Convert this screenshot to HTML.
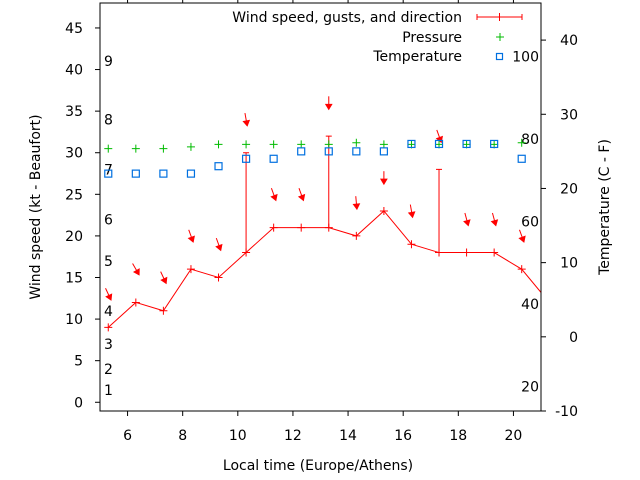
<!DOCTYPE html>
<html><head><meta charset="utf-8"><style>
html,body{margin:0;padding:0;background:#fff;}
svg{display:block;font-family:"DejaVu Sans","Liberation Sans",sans-serif;}
</style></head><body>
<svg id="chart" width="640" height="480" viewBox="0 0 640 480" xmlns="http://www.w3.org/2000/svg">
<rect width="640" height="480" fill="#fff"/>
<g id="grid"></g>
<g id="series"></g>
<rect x="100" y="3" width="441" height="408" fill="none" stroke="#000" stroke-width="1"/>
<text x="318" y="470" font-size="14" text-anchor="middle">Local time (Europe/Athens)</text>
<text transform="translate(40,207) rotate(-90)" font-size="14" text-anchor="middle">Wind speed (kt - Beaufort)</text>
<text transform="translate(609,207) rotate(-90)" font-size="14" text-anchor="middle">Temperature (C - F)</text>
<g>
<text x="462" y="22" font-size="14" text-anchor="end">Wind speed, gusts, and direction</text>
<g stroke="#f00" stroke-width="1">
<line x1="477" y1="17" x2="522" y2="17"/><line x1="477" y1="14" x2="477" y2="20"/><line x1="522" y1="14" x2="522" y2="20"/><line x1="499.5" y1="13" x2="499.5" y2="21"/></g>
<text x="462" y="42" font-size="14" text-anchor="end">Pressure</text>
<g stroke="#0b0" stroke-width="1"><line x1="496" y1="37" x2="504" y2="37"/><line x1="500" y1="33" x2="500" y2="41"/></g>
<text x="462" y="61" font-size="14" text-anchor="end">Temperature</text>
<rect x="496.5" y="53.5" width="6" height="6" fill="none" stroke="#0070e0" stroke-width="1.2"/>
</g>
</svg>
<script>
const times = [5.3,6.3,7.3,8.3,9.3,10.3,11.3,12.3,13.3,14.3,15.3,16.3,17.3,18.3,19.3,20.3,21.3];
const windSpeed = [9,12,11,16,15,18,21,21,21,20,23,19,18,18,18,16,12];
const gusts = [null,null,null,null,null,30,null,null,32,null,null,null,28,null,null,null,null];
const windDir = [335,330,335,340,340,350,340,340,360,355,360,350,340,345,345,340,340];
const pressure = [30.5,30.5,30.5,30.7,31,31,31,31,31,31.2,31,31,31,31,31,31.2];
const temperature = [22,22,22,22,23,24,24,25,25,25,25,26,26,26,26,24];
const xTicks = [6,8,10,12,14,16,18,20];
const yTicks = [0,5,10,15,20,25,30,35,40,45];
const y2Ticks = [-10,0,10,20,30,40];
const beaufortLabels = [1,2,3,4,5,6,7,8,9];
const beaufortKt = [1.5,4,7,11,17,22,28,34,41];
const fahrenheitLabels = [20,40,60,80,100];

const X0=100,X1=541,Y0=411,Y1=3;
const xMin=5,xMax=21,yMin=-1.05,yMax=48,y2Min=-10,y2Max=45;
const sx=v=>X0+(v-xMin)/(xMax-xMin)*(X1-X0);
const sy=v=>Y0-(v-yMin)/(yMax-yMin)*(Y0-Y1);
const sy2=v=>Y0-(v-y2Min)/(y2Max-y2Min)*(Y0-Y1);
const NS='http://www.w3.org/2000/svg';
const grid=document.getElementById('grid'), ser=document.getElementById('series');
function mk(tag,attrs,parent){const e=document.createElementNS(NS,tag);for(const k in attrs)e.setAttribute(k,attrs[k]);parent.appendChild(e);return e;}

xTicks.forEach(t=>{
  const x=sx(t);
  const a=mk('line',{x1:x,y1:Y0,x2:x,y2:Y0+5,stroke:'#000'},grid);
  
  
  const b=mk('line',{x1:x,y1:Y1,x2:x,y2:Y1-5,stroke:'#000'},grid);
  
  
  const l=mk('text',{x:x,y:440,'font-size':14,'text-anchor':'middle'},grid);l.textContent=t;
  
  
});
yTicks.forEach(t=>{
  const y=sy(t);
  const a=mk('line',{x1:X0-5,y1:y,x2:X0,y2:y,stroke:'#000'},grid);
  
  
  const l=mk('text',{x:83,y:y+5,'font-size':14,'text-anchor':'end'},grid);l.textContent=t;
  
  
});
y2Ticks.forEach(t=>{
  const y=sy2(t);
  const a=mk('line',{x1:X1,y1:y,x2:X1+5,y2:y,stroke:'#000'},grid);
  
  
  const l=mk('text',{x:578,y:y+5,'font-size':14,'text-anchor':'end'},grid);l.textContent=t;
  
  
});
beaufortLabels.forEach((b,i)=>{
  const l=mk('text',{x:104,y:sy(beaufortKt[i])+5,'font-size':14},grid);l.textContent=b;
  
  
});
fahrenheitLabels.forEach(f=>{
  const c=(f-32)*5/9;
  const l=mk('text',{x:539,y:sy2(c)+5,'font-size':14,'text-anchor':'end'},grid);l.textContent=f;
  
  
});

const defs=mk('defs',{},ser);const cp=mk('clipPath',{id:'pc'},defs);mk('rect',{x:X0,y:Y1,width:X1-X0,height:Y0-Y1},cp);
const g=mk('g',{'clip-path':'url(#pc)'},ser);

const pts=times.map((t,i)=>sx(t)+','+sy(windSpeed[i])).join(' ');
const wl=mk('polyline',{points:pts,fill:'none',stroke:'#f00','stroke-width':1},g);


times.forEach((t,i)=>{
  const x=sx(t),y=sy(windSpeed[i]);
  const m=mk('path',{d:`M${x-4},${y}H${x+4}M${x},${y-4}V${y+4}`,stroke:'#f00','stroke-width':1},g);
  
  
  if(gusts[i]!=null){
    const gy=sy(gusts[i]);
    const e=mk('path',{d:`M${x},${y}V${gy}M${x-3},${gy}H${x+3}`,stroke:'#f00','stroke-width':1},g);
    
    
  }
  const top=Math.max(windSpeed[i],gusts[i]||0)+4;
  const cx=x,cy=sy(top);
  const a=(windDir[i]+180)*Math.PI/180;
  const dx=Math.sin(a),dy=-Math.cos(a);
  const L=13;
  const tx=cx-dx*L/2,ty=cy-dy*L/2,hx=cx+dx*L/2,hy=cy+dy*L/2;
  const px=-dy,py=dx;
  const ag=mk('g',{},g);
  
  
  mk('line',{x1:tx,y1:ty,x2:hx,y2:hy,stroke:'#f00','stroke-width':1},ag);
  mk('polygon',{points:`${hx},${hy} ${hx-dx*5+px*3},${hy-dy*5+py*3} ${hx-dx*5-px*3},${hy-dy*5-py*3}`,fill:'#f00',stroke:'#f00'},ag);
});
pressure.forEach((p,i)=>{
  const x=sx(times[i]),y=sy(p);
  const m=mk('path',{d:`M${x-4},${y}H${x+4}M${x},${y-4}V${y+4}`,stroke:'#0b0','stroke-width':1},g);
  
  
});
temperature.forEach((c,i)=>{
  const x=sx(times[i]),y=sy2(c);
  const m=mk('rect',{x:x-3.5,y:y-3.5,width:7,height:7,fill:'none',stroke:'#0070e0','stroke-width':1.2},g);
  
  
});
</script>
</body></html>
